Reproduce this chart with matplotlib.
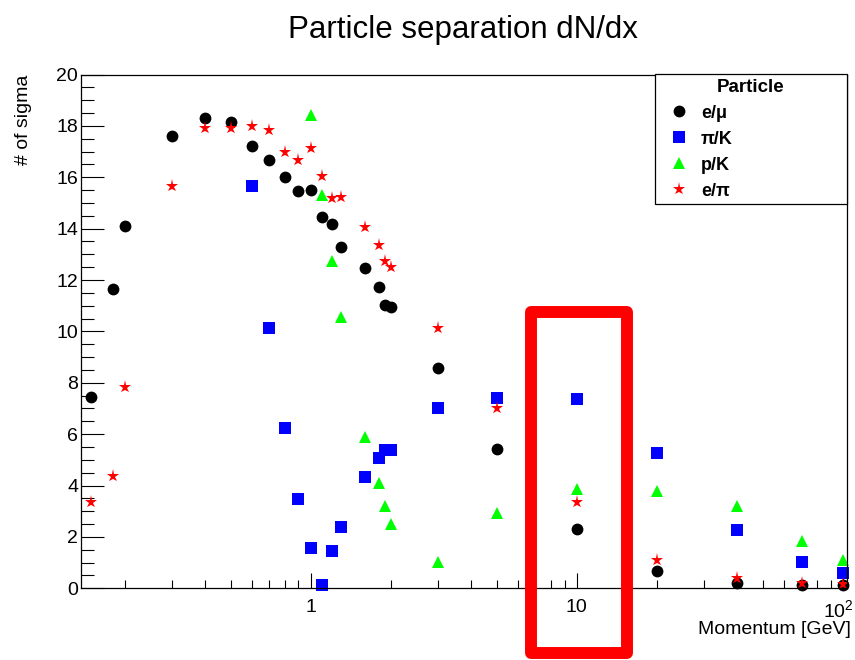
import matplotlib.pyplot as plt
import matplotlib.transforms as mtransforms
from matplotlib.ticker import FixedLocator, MultipleLocator, NullFormatter
from matplotlib.patches import Rectangle

plt.rcParams['font.family'] = ['Liberation Sans', 'DejaVu Sans']
plt.rcParams['mathtext.fontset'] = 'custom'
plt.rcParams['mathtext.rm'] = 'Liberation Sans'

# momentum points (GeV)
momentum = [0.15, 0.18, 0.2, 0.3, 0.4, 0.5, 0.6, 0.7, 0.8, 0.9, 1.0, 1.1, 1.2,
            1.3, 1.6, 1.8, 1.9, 2.0, 3, 5, 10, 20, 40, 70, 100]
mom_pik = momentum[6:]
mom_pk = momentum[10:]

e_mu = [7.43, 11.65, 14.1, 17.6, 18.31, 18.16, 17.22, 16.66, 16.02, 15.45, 15.5,
        14.46, 14.19, 13.29, 12.45, 11.71, 11.01, 10.96, 8.56, 5.42, 2.3, 0.69,
        0.19, 0.13, 0.12]
pi_k = [15.67, 10.14, 6.25, 3.46, 1.56, 0.13, 1.46, 2.4, 4.34, 5.06, 5.38, 5.38,
        7.0, 7.42, 7.37, 5.25, 2.27, 1.04, 0.61]
p_k = [18.44, 15.3, 12.75, 10.57, 5.9, 4.09, 3.21, 2.49, 1.04, 2.92, 3.86, 3.8,
       3.21, 1.85, 1.1]
e_pi = [3.37, 4.37, 7.82, 15.67, 17.9, 17.9, 18.0, 17.83, 16.99, 16.66, 17.15,
        16.03, 15.19, 15.25, 14.07, 13.36, 12.75, 12.51, 10.12, 7.0, 3.35, 1.1,
        0.39, 0.19, 0.17]

W, H = 855, 660
fig = plt.figure(figsize=(W / 100, H / 100), dpi=100)
ax = fig.add_axes([81 / W, 1 - 588.3 / H, (846.7 - 81) / W, (588.3 - 74.5) / H])

ax.plot(momentum, e_mu, 'o', color='black', ms=8.5, mew=0, label='e/\u03bc', clip_on=False)
ax.plot(mom_pik, pi_k, 's', color='#0000ff', ms=8.2, mew=0, label='\u03c0/K', clip_on=False)
ax.plot(mom_pk, p_k, '^', color='#00ff00', ms=8.5, mew=0, label='p/K', clip_on=False)
ax.plot(momentum, e_pi, '*', color='#ff0000', ms=9.5, mew=0, label='e/\u03c0', clip_on=False)

ax.set_xscale('log')
ax.set_xlim(0.137, 103.5)
ax.set_ylim(0, 20)

ax.xaxis.set_major_locator(FixedLocator([1, 10, 100]))
ax.set_xticklabels(['1', '10', r'$10^{2}$'])
minors = [m * d for d in (0.1, 1, 10) for m in range(2, 10)]
ax.xaxis.set_minor_locator(FixedLocator(minors))
ax.xaxis.set_minor_formatter(NullFormatter())
ax.yaxis.set_major_locator(MultipleLocator(2))
ax.yaxis.set_minor_locator(MultipleLocator(0.5))

ax.tick_params(axis='x', which='major', direction='in', length=11, width=0.8,
               pad=8, labelsize=14, top=False)
ax.tick_params(axis='x', which='minor', direction='in', length=5.5, width=0.8, top=False)
ax.tick_params(axis='y', which='major', direction='in', length=16.5, width=0.8,
               pad=2, labelsize=14, right=False)
ax.tick_params(axis='y', which='minor', direction='in', length=9, width=0.8, right=False)
for s in ax.spines.values():
    s.set_linewidth(0.9)

# nudge the 10^2 label left so it stays inside the canvas
last = ax.get_xticklabels()[-1]
last.set_transform(last.get_transform() +
                   mtransforms.ScaledTranslation(-4 / 100, 0, fig.dpi_scale_trans))

fig.text(463 / W, 1 - 38 / H, 'Particle separation dN/dx', fontsize=22.5,
         ha='center', va='baseline')
fig.text(24 / W, 1 - 75 / H, '# of sigma', fontsize=14, rotation=90,
         ha='center', va='top')
fig.text(851 / W, 1 - 634 / H, 'Momentum [GeV]', fontsize=14,
         ha='right', va='baseline')

leg = ax.legend(title='Particle', loc='upper left',
                bbox_to_anchor=(655 / W, 1 - 203 / H, 192 / W, 129 / H),
                bbox_transform=fig.transFigure, mode='expand', borderaxespad=0,
                prop={'weight': 'bold', 'size': 13},
                title_fontproperties={'weight': 'bold', 'size': 13.5},
                fancybox=False, framealpha=1, edgecolor='black',
                borderpad=0.25, handlelength=2.2, handletextpad=0.1,
                labelspacing=0.5)
leg.get_frame().set_linewidth(0.9)

box = Rectangle((531 / W, 1 - 653 / H), (627 - 531) / W, (653 - 312) / H,
                transform=fig.transFigure, fill=False, edgecolor='#ff0000',
                linewidth=8.6, joinstyle='round', zorder=10, clip_on=False)
fig.add_artist(box)

fig.savefig('out.png', dpi=100)
